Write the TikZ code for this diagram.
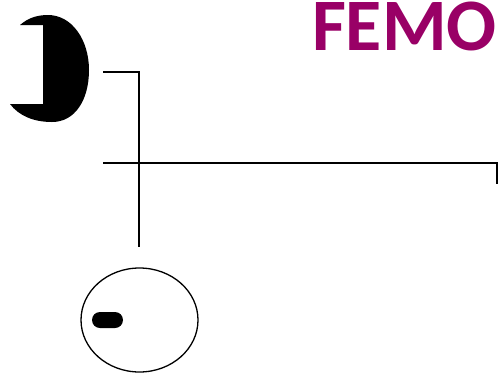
\documentclass[tikz,border=0pt]{standalone}
\usepackage{fontspec}
\setmainfont{Carlito}[BoldFont={Carlito Bold}]
\usetikzlibrary{shapes.geometric}
\definecolor{femo}{HTML}{990066}
\tikzset{
  wire/.style={line width=1.5pt},
  cell/.style={ellipse, draw, line width=1.3pt, minimum width=117pt, minimum height=104pt, inner sep=0pt},
  pill/.style={rounded corners=8pt, fill=black},
}
\begin{document}
\begin{tikzpicture}[x=1pt,y=-1pt]
\useasboundingbox (0,0) rectangle (499,376);
% black crescent
\fill[black] (43,25) -- (20,25) .. controls (28,18) and (37,15) .. (48,15)
  .. controls (72,15) and (89,40) .. (89,70)
  .. controls (89,100) and (75,122) .. (52,122)
  .. controls (34,122) and (19,116) .. (10,104) -- (43,104) -- cycle;
\coordinate (a1) at (103,72);
\coordinate (a2) at (139,72);
\coordinate (a3) at (139,247);
\draw[wire] (a1) -- (a2) -- (a3);
\coordinate (b1) at (103,163);
\coordinate (b2) at (497,163);
\coordinate (b3) at (497,184);
\draw[wire] (b1) -- (b2) -- (b3);
\node[cell] (c) at (139.5,320) {};
\fill[pill] (92,312) rectangle (123,328);
\node[anchor=north east, inner sep=0pt, text=femo, font=\fontsize{74}{74}\selectfont\bfseries] (t) at (497,1.5) {FEMO};
\end{tikzpicture}
\end{document}
